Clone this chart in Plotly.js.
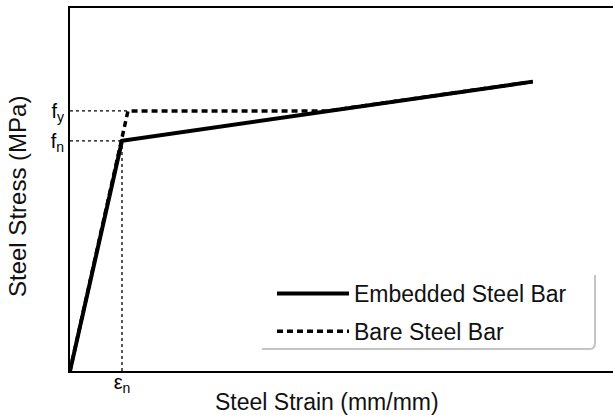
<!DOCTYPE html>
<html>
<head>
<meta charset="utf-8">
<script src="https://cdn.plot.ly/plotly-3.0.1.min.js"></script>
<style>html,body{margin:0;padding:0;background:#fff;}#chart{width:613px;height:417px;}</style>
</head>
<body>
<div id="chart"></div>
<script>
// Key values (strain in mm/mm, stress in MPa; axis is schematic)
const epsN = 0.002;
const fN = 400;
const fY = 452;
// Embedded steel bar (solid)
const embeddedStrain = [0, 0.002, 0.0178];
const embeddedStress = [0, 400, 503];
// Bare steel bar (dashed)
const bareStrain = [0, 0.00223, 0.0099, 0.0178];
const bareStress = [0, 452, 452, 503];
// Tick labels
const yTickVals = [fN, fY];
const yTickText = ['f<sub>n</sub>', 'f<sub>y</sub>'];
const xTickVals = [epsN];
const xTickText = ['ε<sub>n</sub>'];

const FONT = 'Liberation Sans, Arial, Helvetica, sans-serif';

const traces = [
  {x: [0, bareStrain[1]], y: [fY, fY], mode: 'lines', line: {color: '#000', width: 1.3, dash: 'dot'}, showlegend: false, hoverinfo: 'skip'},
  {x: [0, epsN], y: [fN, fN], mode: 'lines', line: {color: '#000', width: 1.3, dash: 'dot'}, showlegend: false, hoverinfo: 'skip'},
  {x: [epsN, epsN], y: [0, fN], mode: 'lines', line: {color: '#000', width: 1.3, dash: 'dot'}, showlegend: false, hoverinfo: 'skip'},
  {x: embeddedStrain, y: embeddedStress, mode: 'lines', name: 'Embedded Steel Bar', legendgroup: 'a',
   line: {color: '#000', width: 4}},
  {x: bareStrain, y: bareStress, mode: 'lines', name: 'Bare Steel Bar', legendgroup: 'b',
   line: {color: '#000', width: 3.5, dash: '6px,4px'}}
];

const layout = {
  width: 613, height: 417,
  margin: {l: 70, r: 0, t: 8, b: 46},
  paper_bgcolor: '#fff', plot_bgcolor: '#fff',
  font: {family: FONT, color: '#000'},
  showlegend: true,
  legend: {
    traceorder: 'grouped', tracegroupgap: 5,
    itemwidth: 72, font: {size: 23, family: FONT, color: '#111'},
    bgcolor: 'rgba(0,0,0,0)', borderwidth: 0,
    xref: 'paper', yref: 'paper',
    x: (272 - 70) / 543, y: (371 - 272) / 363, xanchor: 'left', yanchor: 'top'
  },
  xaxis: {
    range: [0, 0.020885], showgrid: false, zeroline: false,
    showline: true, linecolor: '#000', linewidth: 2, mirror: true,
    ticks: '', tickvals: xTickVals, ticktext: xTickText,
    ticklabelstandoff: -8,
    tickfont: {size: 20, family: FONT}
  },
  yaxis: {
    range: [0, 631], showgrid: false, zeroline: false,
    showline: true, linecolor: '#000', linewidth: 2,
    ticks: '', tickvals: yTickVals, ticktext: yTickText,
    tickfont: {size: 20, family: FONT}
  },
  annotations: [
    {text: 'Steel Strain (mm/mm)', xref: 'paper', yref: 'paper', x: (327 - 70) / 543, y: (371 - 402) / 363,
     xanchor: 'center', yanchor: 'middle', showarrow: false, font: {size: 23, family: FONT, color: '#111'}},
    {text: 'Steel Stress (MPa)', xref: 'paper', yref: 'paper', x: (17 - 70) / 543, y: (371 - 197) / 363,
     xanchor: 'center', yanchor: 'middle', textangle: -90, showarrow: false, font: {size: 24, family: FONT, color: '#111'}}
  ],
  shapes: [
    {type: 'path', xref: 'x', yref: 'y', layer: 'below',
     path: 'M0.007385,38.2 L0.0200,38.2 Q0.020192,38.2 0.020192,48.7 L0.020192,166.9',
     line: {color: '#c4c4c4', width: 2}}
  ]
};

Plotly.newPlot('chart', traces, layout, {displayModeBar: false, staticPlot: true});
</script>
</body>
</html>
